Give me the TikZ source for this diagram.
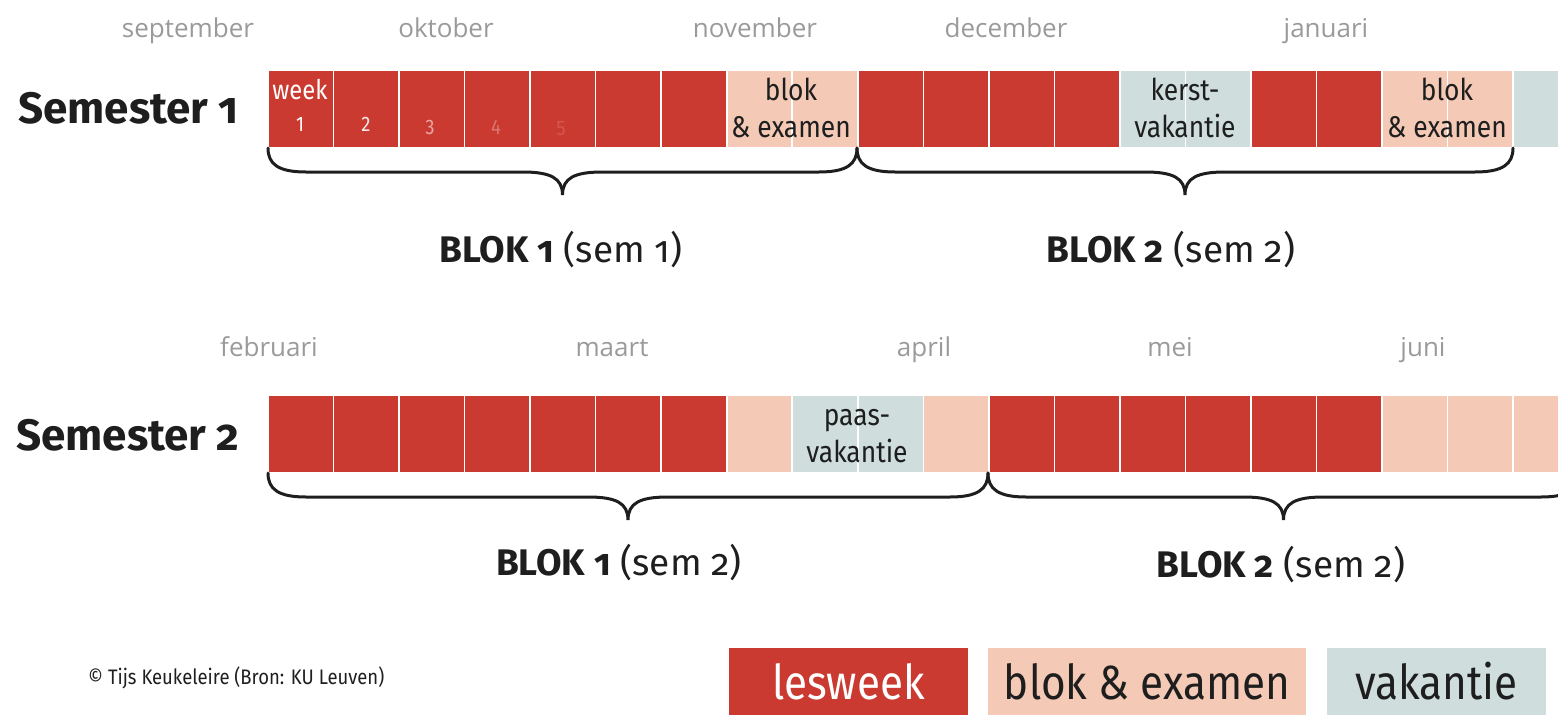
\documentclass[tikz,border=0pt]{standalone}
\usepackage{fontspec}
\setmainfont{Fira Sans}
\newfontfamily\condfont{Fira Sans}[FakeStretch=0.88]
\newfontfamily\headfont{Fira Sans}[Numbers=OldStyle]
\newfontfamily\monthfont{Open Sans}
\definecolor{cR}{HTML}{CB3A30}
\definecolor{cP}{HTML}{F4C9B6}
\definecolor{cG}{HTML}{CFDEDD}
\definecolor{monthgrey}{HTML}{9A9A9A}
\definecolor{ink}{HTML}{1E1E1E}
\newcommand\mybrace[4]{% x1, x2, ytop, name
  \coordinate (#4-a) at (#1,#3);
  \coordinate (#4-b) at (#2,#3);
  \coordinate (#4-tip) at ({(#1+#2)/2},{#3+47});
  \draw[bracestyle] (#4-a) .. controls (#1,{#3+16}) and ({#1+10},{#3+24}) .. ({#1+38},{#3+24})
    -- ({(#1+#2)/2-40},{#3+24}) .. controls ({(#1+#2)/2-12},{#3+24}) and ({(#1+#2)/2},{#3+30}) .. (#4-tip)
    .. controls ({(#1+#2)/2},{#3+30}) and ({(#1+#2)/2+12},{#3+24}) .. ({(#1+#2)/2+40},{#3+24})
    -- ({#2-38},{#3+24}) .. controls ({#2-10},{#3+24}) and (#2,{#3+16}) .. (#4-b);
}
\tikzset{
  bracestyle/.style={line width=3pt, draw=ink, line cap=round},
  cell/.style={draw=white, line width=1.6pt},
  month/.style={font=\monthfont\fontsize{26}{30}\selectfont, text=monthgrey, inner sep=0pt, anchor=base},
  semlabel/.style={font=\headfont\bfseries\fontsize{44}{50}\selectfont, text=ink, inner sep=0pt, anchor=base west},
  bloklabel/.style={font=\headfont\fontsize{37}{42}\selectfont, text=ink, inner sep=0pt, anchor=base},
  celltext/.style={font=\condfont\fontsize{30}{34}\selectfont, text=ink, inner sep=0pt, anchor=base},
  digit/.style={font=\condfont\fontsize{21}{24}\selectfont, inner sep=0pt, anchor=base},
  legtext/.style={font=\condfont\fontsize{48}{54}\selectfont, inner sep=0pt},
}
\begin{document}
\begin{tikzpicture}[x=1pt,y=-1pt]
\useasboundingbox (0,0) rectangle (1558,715);
\clip (0,0) rectangle (1558,715);
\def\cw{65.53}
% Semester 1 row
\foreach \c [count=\i from 0] in {R,R,R,R,R,R,R,P,P,R,R,R,R,G,G,R,R,P,P,G}{
  \filldraw[cell, fill=c\c] ({268+\i*\cw},70) rectangle ({268+(\i+1)*\cw},148);
}
% Semester 2 row
\foreach \c [count=\i from 0] in {R,R,R,R,R,R,R,P,G,G,P,R,R,R,R,R,R,P,P,P}{
  \filldraw[cell, fill=c\c] ({268+\i*\cw},395) rectangle ({268+(\i+1)*\cw},473);
}
% months
\node[month] (m1) at (188,37) {september};
\node[month] (m2) at (446,37) {oktober};
\node[month] (m3) at (755,37) {november};
\node[month] (m4) at (1006,37) {december};
\node[month] (m5) at (1326,37) {januari};
\node[month] (m6) at (269,356) {februari};
\node[month] (m7) at (612,356) {maart};
\node[month] (m8) at (924,356) {april};
\node[month] (m9) at (1170,356) {mei};
\node[month] (m10) at (1423,356) {juni};
% semester labels
\node[semlabel] (s1) at (18,123) {Semester 1};
\node[semlabel] (s2) at (16,450) {Semester 2};
% cell texts
\node[celltext, text=white, font=\condfont\fontsize{27}{30}\selectfont] (wk) at (300,99) {week};
\node[digit, text=white] (n1) at (300,131) {1};
\node[digit, text=white!90!cR] (n2) at (366,131) {2};
\node[digit, text=white!55!cR] (n3) at (430,134) {3};
\node[digit, text=white!30!cR] (n4) at (496,134) {4};
\node[digit, text=white!15!cR] (n5) at (561,135) {5};
\node[celltext] (b1a) at (791,100) {blok};
\node[celltext] (b1b) at (791,137) {\& examen};
\node[celltext] (k1a) at (1185,100) {kerst-};
\node[celltext] (k1b) at (1185,137) {vakantie};
\node[celltext] (b2a) at (1447,100) {blok};
\node[celltext] (b2b) at (1447,137) {\& examen};
\node[celltext] (p1a) at (857,425) {paas-};
\node[celltext] (p1b) at (857,462) {vakantie};
% braces
\mybrace{268}{857}{148}{br1}
\mybrace{857}{1513}{148}{br2}
\mybrace{268}{988}{473}{br3}
\mybrace{988}{1579}{473}{br4}
% blok labels
\node[bloklabel] (l1) at (561,262) {\textbf{BLOK 1} (sem 1)};
\node[bloklabel] (l2) at (1171,262) {\textbf{BLOK 2} (sem 2)};
\node[bloklabel] (l3) at (619,575) {\textbf{BLOK 1} (sem 2)};
\node[bloklabel] (l4) at (1281,577) {\textbf{BLOK 2} (sem 2)};
% legend
\node[fill=cR, minimum width=239pt, minimum height=67pt, inner sep=0pt] (lg1) at (848.5,681.5) {};
\node[legtext, text=white] (lg1t) at (lg1) {lesweek};
\node[fill=cP, minimum width=318pt, minimum height=67pt, inner sep=0pt] (lg2) at (1147,681.5) {};
\node[legtext, text=ink] (lg2t) at (lg2) {blok \& examen};
\node[fill=cG, minimum width=219pt, minimum height=67pt, inner sep=0pt] (lg3) at (1436.5,681.5) {};
\node[legtext, text=ink] (lg3t) at (lg3) {vakantie};
\node[font=\condfont\fontsize{21}{24}\selectfont, text=ink, inner sep=0pt, anchor=west] (copy) at (88,678) {© Tijs Keukeleire (Bron: KU Leuven)};
\end{tikzpicture}
\end{document}
